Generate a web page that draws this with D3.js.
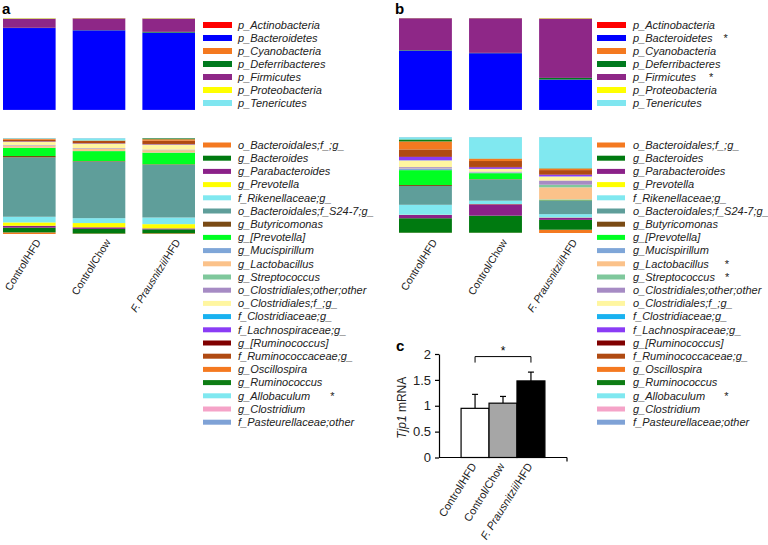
<!DOCTYPE html>
<html><head><meta charset="utf-8">
<script src="https://cdn.jsdelivr.net/npm/d3@7"></script>
<style>body{margin:0;background:#fff} svg{display:block} text{font-family:"Liberation Sans",Arial,sans-serif}</style>
</head><body><svg id="chart" width="768" height="545"></svg>
<script>
// ---------------- DATA ----------------
const samples = ["Control/HFD", "Control/Chow", "F. Prausnitzii/HFD"];

const phyla = ["p_Actinobacteria","p_Bacteroidetes","p_Cyanobacteria","p_Deferribacteres","p_Firmicutes","p_Proteobacteria","p_Tenericutes"];
const phylaColors = ["#ff0000","#0000ff","#f47920","#007a1e","#8e2787","#ffff00","#7fe6f0"];
// panel a (phylum %, legend order)
const phylaA_ControlHFD  = [0.1, 89.0, 0.05, 0.2, 10.0, 0.5, 0.15];
const phylaA_ControlChow = [0.1, 86.5, 0.05, 0.2, 12.8, 0.3, 0.05];
const phylaA_FpHFD       = [0.1, 84.0, 0.05, 0.8, 14.5, 0.4, 0.15];
// panel b
const phylaB_ControlHFD  = [0.05, 64.5, 0.05, 0.5, 34.7, 0.15, 0.05];
const phylaB_ControlChow = [0.05, 61.7, 0.05, 0.3, 37.7, 0.15, 0.05];
const phylaB_FpHFD       = [0.05, 33.0, 0.05, 1.8, 64.6, 0.45, 0.05];

const genera = ["o_Bacteroidales;f_;g_","g_Bacteroides","g_Parabacteroides","g_Prevotella","f_Rikenellaceae;g_",
  "o_Bacteroidales;f_S24-7;g_","g_Butyricomonas","g_[Prevotella]","g_Mucispirillum","g_Lactobacillus","g_Streptococcus",
  "o_Clostridiales;other;other","o_Clostridiales;f_;g_","f_Clostridiaceae;g_","f_Lachnospiraceae;g_","g_[Ruminococcus]",
  "f_Ruminococcaceae;g_","g_Oscillospira","g_Ruminococcus","g_Allobaculum","g_Clostridium","f_Pasteurellaceae;other"];
const generaColors = ["#f47920","#007a10","#8b2189","#ffff00","#80e8f0","#5f9e9a","#7a4a14","#00ff22","#7fa6d8","#fbc28a",
  "#7fc89c","#a68bc4","#fff6a0","#19b2f0","#8a3cf5","#800000","#b04a12","#f47920","#0e7d14","#80e8f0","#f5a3c8","#7fa2d6"];
// panel a (genus %, legend order)
const genusA_ControlHFD  = [1.7,4.9,2.0,3.5,5.9,62.0,1.4,8.4,0.3,2.0,0.2,0.5,3.3,0.1,0.4,0.1,1.7,0.8,0.3,0.5,0.1,0.1];
const genusA_ControlChow = [0.5,4.9,1.7,4.5,5.2,60.0,0.5,10.5,0.2,2.4,0.2,0.5,4.5,0.1,0.3,0.1,2.4,0.4,0.2,2.4,0.1,0.1];
const genusA_FpHFD       = [0.7,4.2,1.0,4.5,7.0,55.7,0.5,12.2,0.2,2.4,0.2,0.5,5.2,0.1,0.3,0.3,3.5,1.5,1.0,0.1,0.1,0.1];
// panel b
const genusB_ControlHFD  = [0.3,15.3,3.5,0.2,10.5,19.9,1.0,15.7,1.4,0.3,0.1,1.4,7.0,0.2,3.5,0.7,7.3,8.4,2.1,2.4,0.1,0.1];
const genusB_ControlChow = [0.3,18.1,12.2,0.2,3.5,22.6,0.3,6.3,0.7,0.2,0.1,0.7,2.8,0.1,1.7,0.3,6.3,2.4,0.3,22.6,0.1,0.1];
const genusB_FpHFD       = [3.5,10.5,2.4,0.2,3.5,14.6,0.3,0.5,0.3,12.9,2.8,4.5,4.2,0.2,1.7,0.5,4.5,1.7,0.3,33.1,0.1,0.1];

// panel c
const tjpMeans  = [0.95, 1.05, 1.48];
const tjpErrors = [0.27, 0.13, 0.17];
const tjpTicks  = [0, 0.5, 1, 1.5, 2];

// ---------------- DRAW ----------------
const svg = d3.select("#chart");

function stackedPanel(x0, x1, yTop, yBot, keys, colors, valueSets) {
  const table = valueSets.map((vals, i) => {
    const tot = d3.sum(vals);
    const o = {sample: samples[i]};
    keys.forEach((k, j) => o[k] = vals[j] / tot * 100);
    return o;
  });
  const x = d3.scaleBand().domain(samples).range([x0, x1]).paddingInner(0.245).paddingOuter(0);
  const y = d3.scaleLinear().domain([0, 100]).range([yBot, yTop]);
  const color = d3.scaleOrdinal().domain(keys).range(colors);
  const series = d3.stack().keys(keys)(table);
  const g = svg.append("g");
  g.selectAll("g").data(series).join("g").attr("fill", d => color(d.key))
    .selectAll("rect").data(d => d).join("rect")
    .attr("x", d => x(d.data.sample)).attr("width", x.bandwidth())
    .attr("y", d => y(d[1])).attr("height", d => Math.max(0, y(d[0]) - y(d[1])));
  return x;
}

function legend(xs, xt, y0, dy, keys, colors, sw, sh, stars) {
  const g = svg.append("g");
  const yl = d3.scaleLinear().domain([0, 1]).range([y0, y0 + dy]);
  keys.forEach((k, i) => {
    const yy = yl(i);
    g.append("rect").attr("x", xs).attr("y", yy - sh / 2).attr("width", sw).attr("height", sh).attr("fill", colors[i]);
    const t = g.append("text").attr("x", xt).attr("y", yy).attr("dy", "0.35em")
      .attr("font-size", 11).attr("font-style", "italic").attr("fill", "#222").text(k);
    if (stars && stars[k] !== undefined) {
      const w = t.node().getComputedTextLength();
      g.append("text").attr("x", xt + w + stars[k]).attr("y", yy + 4).attr("font-size", 11).attr("fill", "#222").text("*");
    }
  });
}

function sampleLabel(sel, s) {
  if (s.startsWith("F. ")) {
    sel.append("tspan").attr("font-style", "italic").text("F. Prausnitzii");
    sel.append("tspan").text("/HFD");
  } else sel.text(s);
}

function xLabels(x, yEnd, dxEnd) {
  samples.forEach(s => {
    const cx = x(s) + x.bandwidth() / 2 + dxEnd;
    const t = svg.append("text").attr("text-anchor", "end").attr("font-size", 10.5).attr("fill", "#222")
      .attr("transform", `translate(${cx},${yEnd}) rotate(-58)`);
    sampleLabel(t, s);
  });
}

// Panel a
svg.append("text").attr("x", 2).attr("y", 14).attr("font-size", 15).attr("font-weight", "bold").text("a");
stackedPanel(3, 195, 18, 110, phyla, phylaColors, [phylaA_ControlHFD, phylaA_ControlChow, phylaA_FpHFD]);
const xa = stackedPanel(3, 195, 138, 234, genera, generaColors, [genusA_ControlHFD, genusA_ControlChow, genusA_FpHFD]);
xLabels(xa, 242, 12);
legend(203, 238, 25, 13, phyla, phylaColors, 29, 6, null);
legend(203, 238, 145, 13.2, genera, generaColors, 28, 5, {"g_Allobaculum": 20});

// Panel b
svg.append("text").attr("x", 395).attr("y", 14).attr("font-size", 15).attr("font-weight", "bold").text("b");
stackedPanel(399, 592, 18, 110, phyla, phylaColors, [phylaB_ControlHFD, phylaB_ControlChow, phylaB_FpHFD]);
const xb = stackedPanel(399, 592, 137, 233, genera, generaColors, [genusB_ControlHFD, genusB_ControlChow, genusB_FpHFD]);
xLabels(xb, 242, 12);
legend(597, 633, 25, 13, phyla, phylaColors, 29, 6, {"p_Bacteroidetes": 11, "p_Firmicutes": 13});
legend(597, 633, 145, 13.2, genera, generaColors, 28, 5, {"g_Lactobacillus": 16, "g_Streptococcus": 10, "g_Allobaculum": 19});

// Panel c
svg.append("text").attr("x", 396).attr("y", 351).attr("font-size", 15).attr("font-weight", "bold").text("c");
const cx0 = 439, cx1 = 567, cy0 = 457.5, cy1 = 354;
const xc = d3.scaleBand().domain(samples).range([cx0, cx1]).paddingInner(0).paddingOuter(0.79);
const yc = d3.scaleLinear().domain([0, 2]).range([cy0, cy1]);
const gc = svg.append("g");
const barFill = ["#ffffff", "#a6a6a6", "#000000"];
// error bars (upper only)
samples.forEach((s, i) => {
  const cx = xc(s) + xc.bandwidth() / 2;
  gc.append("line").attr("x1", cx).attr("x2", cx).attr("y1", yc(tjpMeans[i])).attr("y2", yc(tjpMeans[i] + tjpErrors[i])).attr("stroke", "#000").attr("stroke-width", 1.2);
  gc.append("line").attr("x1", cx - 3).attr("x2", cx + 3).attr("y1", yc(tjpMeans[i] + tjpErrors[i])).attr("y2", yc(tjpMeans[i] + tjpErrors[i])).attr("stroke", "#000").attr("stroke-width", 1.2);
});
gc.selectAll("rect.b").data(samples).join("rect").attr("class", "b")
  .attr("x", d => xc(d)).attr("width", xc.bandwidth())
  .attr("y", (d, i) => yc(tjpMeans[i])).attr("height", (d, i) => cy0 - yc(tjpMeans[i]))
  .attr("fill", (d, i) => barFill[i]).attr("stroke", "#000").attr("stroke-width", 1.2);
// y axis
const ya = gc.append("g").attr("transform", `translate(${cx0},0)`)
  .call(d3.axisLeft(yc).tickValues(tjpTicks).tickFormat(d => String(d)).tickSize(4).tickSizeOuter(0));
ya.selectAll("text").attr("font-size", 13).attr("fill", "#222").attr("font-family", "Liberation Sans, Arial, sans-serif").attr("dx", "-1");
ya.select(".domain").attr("stroke", "#000").attr("stroke-width", 1.2);
ya.selectAll(".tick line").attr("stroke", "#000").attr("stroke-width", 1.2);
// x axis line
gc.append("line").attr("x1", cx0).attr("x2", cx1).attr("y1", cy0).attr("y2", cy0).attr("stroke", "#000").attr("stroke-width", 1.2);
gc.append("line").attr("x1", cx1).attr("x2", cx1).attr("y1", cy0).attr("y2", cy0 + 4).attr("stroke", "#000").attr("stroke-width", 1.2);
// y label
const yl = gc.append("text").attr("transform", `translate(406,${(cy0 + cy1) / 2 + 2}) rotate(-90)`).attr("text-anchor", "middle").attr("font-size", 12).attr("fill", "#222");
yl.append("tspan").attr("font-style", "italic").text("Tjp1");
yl.append("tspan").text(" mRNA");
// significance bracket
const b1 = xc(samples[0]) + xc.bandwidth() / 2, b3 = xc(samples[2]) + xc.bandwidth() / 2, by = yc(1.95);
gc.append("path").attr("d", `M${b1},${by + 6}V${by}H${b3}V${by + 6}`).attr("fill", "none").attr("stroke", "#000").attr("stroke-width", 1);
gc.append("text").attr("x", (b1 + b3) / 2).attr("y", by - 2).attr("text-anchor", "middle").attr("font-size", 12).text("*");
// x labels
samples.forEach(s => {
  const cx = xc(s) + xc.bandwidth() / 2 + 2;
  const t = gc.append("text").attr("text-anchor", "end").attr("font-size", 11).attr("fill", "#222")
    .attr("transform", `translate(${cx},466) rotate(-58)`);
  sampleLabel(t, s);
});
</script></body></html>
